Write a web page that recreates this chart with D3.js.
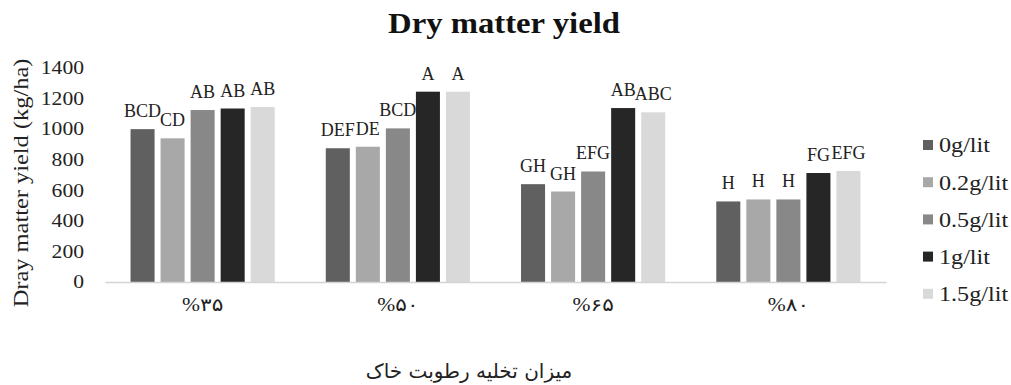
<!DOCTYPE html>
<html>
<head>
<meta charset="utf-8">
<script src="https://cdn.jsdelivr.net/npm/d3@7"></script>
<style>
  body { margin: 0; background: #fff; }
  text { font-family: "Times New Roman", "Liberation Serif", "DejaVu Serif", serif; fill: #222; }
</style>
</head>
<body>
<div id="chart"></div>
<script>
// data
const groups = ["%۳۵", "%۵۰", "%۶۵", "%۸۰"];
const seriesNames = ["0g/lit", "0.2g/lit", "0.5g/lit", "1g/lit", "1.5g/lit"];
const seriesColors = ["#606060", "#a8a8a8", "#888888", "#262626", "#d9d9d9"];
const v0 = [1000, 875, 640, 527];
const v02 = [940, 885, 592, 540];
const v05 = [1125, 1005, 723, 540];
const v1 = [1135, 1245, 1138, 713];
const v15 = [1145, 1245, 1110, 726];
const lab0 = ["BCD", "DEF", "GH", "H"];
const lab02 = ["CD", "DE", "GH", "H"];
const lab05 = ["AB", "BCD", "EFG", "H"];
const lab1 = ["AB", "A", "AB", "FG"];
const lab15 = ["AB", "A", "ABC", "EFG"];
const yTicks = [0, 200, 400, 600, 800, 1000, 1200, 1400];

const values = [v0, v02, v05, v1, v15];
const letters = [lab0, lab02, lab05, lab1, lab15];

const W = 1011, H = 385;
const margin = { top: 68, right: 125, bottom: 103, left: 105 };

const svg = d3.select("#chart").append("svg")
  .attr("width", W)
  .attr("height", H);

// the original picture is a little wider than tall, so widen the text a bit
function stretch(sel, f) {
  sel.each(function () {
    const len = this.getComputedTextLength();
    d3.select(this)
      .attr("textLength", len * f)
      .attr("lengthAdjust", "spacingAndGlyphs");
  });
}

// rows: one per group and series
const rows = [];
groups.forEach((g, gi) => {
  seriesNames.forEach((s, si) => {
    rows.push({ group: g, series: s, si: si, value: values[si][gi], letter: letters[si][gi] });
  });
});

const x0 = d3.scaleBand()
  .domain(groups)
  .range([margin.left, W - margin.right])
  .padding(0);

const x1 = d3.scaleBand()
  .domain(seriesNames)
  .range([0, x0.bandwidth()])
  .paddingInner(0.2)
  .paddingOuter(0.85);

const y = d3.scaleLinear()
  .domain([0, 1400])
  .range([H - margin.bottom, margin.top]);

const color = d3.scaleOrdinal().domain(seriesNames).range(seriesColors);

// title
svg.append("text")
  .attr("x", 504)
  .attr("y", 33)
  .attr("text-anchor", "middle")
  .style("font-size", "30px")
  .style("font-weight", "bold")
  .style("fill", "#111")
  .text("Dry matter yield")
  .call(stretch, 1.09);

// y axis (labels only)
const yAxis = svg.append("g")
  .attr("transform", "translate(" + (margin.left - 21) + ",0)")
  .call(d3.axisLeft(y).tickValues(yTicks).tickSize(0).tickPadding(0).tickFormat(d3.format("d")));
yAxis.select(".domain").remove();
yAxis.selectAll("text")
  .style("font-size", "18px")
  .style("font-family", "\"Times New Roman\", \"Liberation Serif\", serif")
  .attr("fill", "#222")
  .call(stretch, 1.2);

// y axis title
svg.append("text")
  .attr("transform", "translate(28,183) rotate(-90)")
  .attr("text-anchor", "middle")
  .style("font-size", "20px")
  .text("Dray matter yield (kg/ha)")
  .call(stretch, 1.22);

// bars
svg.append("g").selectAll("rect")
  .data(rows)
  .enter()
  .append("rect")
  .attr("x", d => x0(d.group) + x1(d.series))
  .attr("y", d => y(d.value))
  .attr("width", x1.bandwidth())
  .attr("height", d => y(0) - y(d.value))
  .attr("fill", d => color(d.series));

// letters above bars
svg.append("g").selectAll("text")
  .data(rows)
  .enter()
  .append("text")
  .attr("x", d => x0(d.group) + x1(d.series) + x1.bandwidth() / 2)
  .attr("y", d => y(d.value) - 12)
  .attr("text-anchor", "middle")
  .style("font-size", "18px")
  .text(d => d.letter);

// x axis
const xAxis = svg.append("g")
  .attr("transform", "translate(0," + y(0) + ")")
  .call(d3.axisBottom(x0).tickSize(0).tickPadding(16));
xAxis.select(".domain").attr("stroke", "#d4d4d4").attr("stroke-width", 1.5);
xAxis.selectAll("text")
  .style("font-size", "18px")
  .style("font-family", "\"Times New Roman\", \"Liberation Serif\", \"DejaVu Sans\", serif")
  .attr("fill", "#222")
  .attr("direction", "ltr")
  .call(stretch, 1.2);

// x axis title
svg.append("text")
  .attr("x", 469)
  .attr("y", 378)
  .attr("text-anchor", "middle")
  .attr("direction", "rtl")
  .style("font-size", "20px")
  .style("font-family", "\"DejaVu Sans\", \"Noto Sans\", sans-serif")
  .text("میزان تخلیه رطوبت خاک");

// legend
const legend = svg.append("g")
  .attr("transform", "translate(923,145)");
const keys = legend.selectAll("g")
  .data(seriesNames)
  .enter()
  .append("g")
  .attr("transform", (d, i) => "translate(0," + (i * 37.2) + ")");
keys.append("rect")
  .attr("x", 0)
  .attr("y", -5)
  .attr("width", 10)
  .attr("height", 10)
  .attr("fill", d => color(d));
keys.append("text")
  .attr("x", 16)
  .attr("y", 0)
  .attr("dy", "0.35em")
  .style("font-size", "21px")
  .text(d => d)
  .call(stretch, 1.15);
</script>
</body>
</html>
